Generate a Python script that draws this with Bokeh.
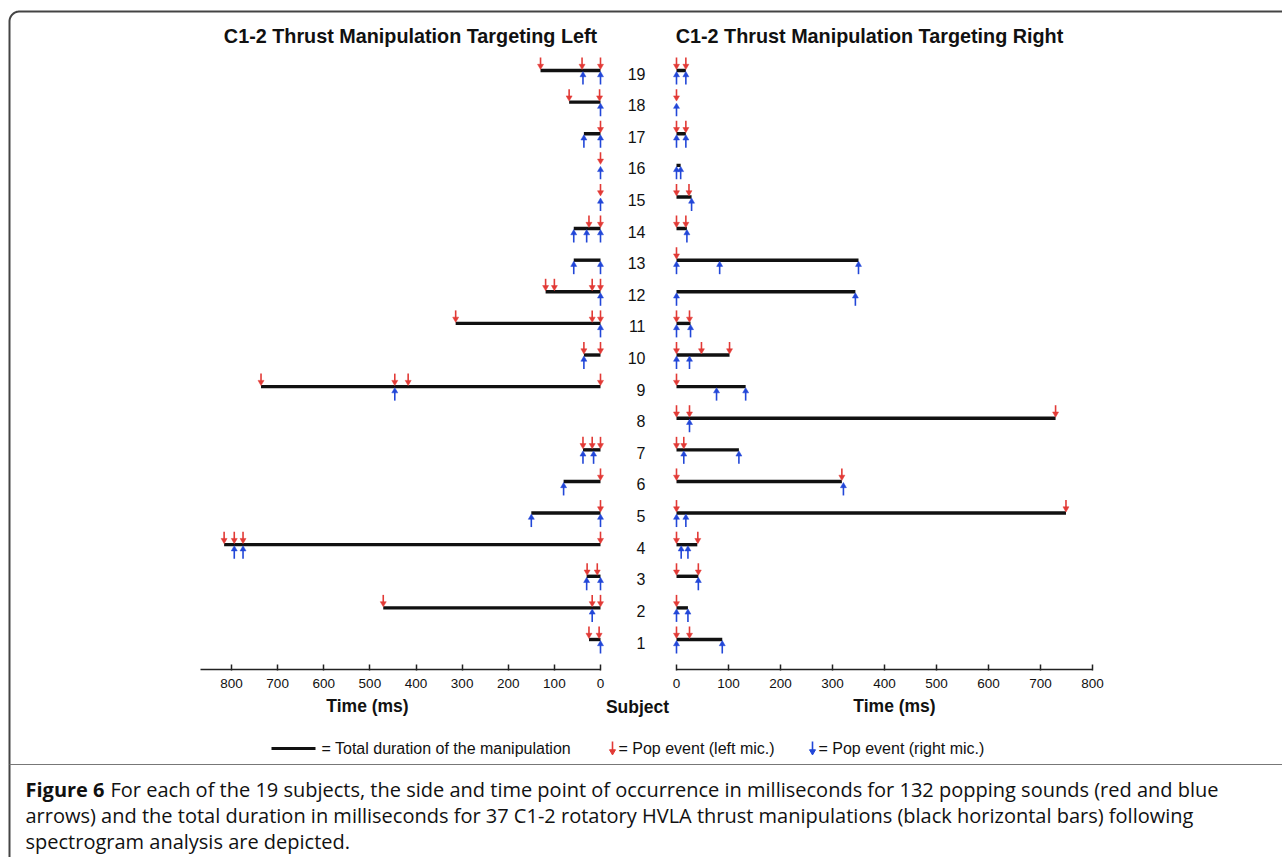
import numpy as np
from bokeh.plotting import figure
from bokeh.models import Range1d, LinearAxis, FixedTicker
from bokeh.core.properties import value
from bokeh.embed import file_html
from bokeh.resources import INLINE

# ---------------- data (subjects 1..19) ----------------
subjects = list(range(1, 20))

# total manipulation duration (ms), None = no manipulation on that side
left_dur = [25, 471, 30, 816, 150, 80, 38, None, 736, 36, 314, 119, 58, 58, 0, 0, 36, 68, 130]
right_dur = [88, 22, 42, 40, 749, 318, 120, 729, 133, 102, 27, 344, 350, 20, 29, 8, 18, 0, 18]

# pop events (ms) recorded by the left (red) and right (blue) microphones
left_red = [[25, 3], [471, 18, 0], [29, 7], [816, 794, 775, 0], [0], [0], [38, 18, 0], [],
            [736, 446, 417, 0], [36, 0], [314, 18, 0], [119, 100, 18, 0], [], [25, 0],
            [0], [0], [0], [68, 2], [130, 40, 0]]
left_blue = [[0], [18], [30, 0], [794, 775], [150, 0], [80], [38, 15], [], [446], [36],
             [0], [0], [58, 0], [58, 30, 0], [0], [0], [36, 0], [0], [38, 0]]
right_red = [[0, 25], [0], [0, 42], [0, 41], [0, 749], [0, 318], [0, 14], [0, 25, 729], [0],
             [0, 48, 102], [0, 25], [], [0], [0, 18], [0, 24], [], [0, 18], [0], [0, 18]]
right_blue = [[0, 88], [0, 22], [42], [9, 22], [0, 18], [321], [14, 120], [25], [77, 133],
              [0, 25], [0, 27], [0, 344], [0, 83, 350], [20], [29], [0, 8], [0, 18], [0], [0, 18]]

time_ticks = [0, 100, 200, 300, 400, 500, 600, 700, 800]

title_left = "C1-2 Thrust Manipulation Targeting Left"
title_right = "C1-2 Thrust Manipulation Targeting Right"
caption_bold = "Figure 6"
caption_lines = [
    "For each of the 19 subjects, the side and time point of occurrence in milliseconds for 132 popping sounds (red and blue",
    "arrows) and the total duration in milliseconds for 37 C1-2 rotatory HVLA thrust manipulations (black horizontal bars) following",
    "spectrogram analysis are depicted.",
]

# ---------------- styling ----------------
FONT = "Liberation Sans"
CAP_FONT = "Open Sans"
RED = "#e23a36"
BLUE = "#2247d8"
BAR = "#111111"

W, H = 1282, 857
PX_PER_SUBJ = 31.61            # vertical spacing of subjects in px
px = 1.0 / PX_PER_SUBJ         # one pixel in subject units

p = figure(width=W, height=H, output_backend="svg", toolbar_location=None,
           x_range=Range1d(0, W), y_range=Range1d(H, 0),
           x_axis_type=None, y_axis_type=None, min_border=0)
p.outline_line_color = None
p.background_fill_color = "white"
p.border_fill_color = "white"

# data ranges mapped onto the page
left_scale = 0.46125    # px per ms (left panel, reversed)
right_scale = 0.52      # px per ms
x0_left, x0_right = 600.0, 676.0
p.extra_x_ranges = {
    "L": Range1d(x0_left / left_scale, (x0_left - W) / left_scale),
    "R": Range1d(-x0_right / right_scale, (W - x0_right) / right_scale),
}
y_bar1 = 639.0
p.extra_y_ranges = {
    "S": Range1d(1 - (H - y_bar1) / PX_PER_SUBJ, 1 + y_bar1 / PX_PER_SUBJ),
}

# ---------------- bars and arrows ----------------
def draw_panel(rng, durs, reds, blues):
    bs, bd = [], []
    for s, d in zip(subjects, durs):
        if d is not None and d > 0:
            bs.append(s)
            bd.append(d)
    p.segment(x0=[0] * len(bs), x1=bd, y0=bs, y1=bs, x_range_name=rng, y_range_name="S",
              line_color=BAR, line_width=3.4, line_cap="butt")
    rs, rt = [], []
    for s, lst in zip(subjects, reds):
        for t in lst:
            rs.append(s)
            rt.append(t)
    rs = np.array(rs, dtype=float)
    p.segment(x0=rt, x1=rt, y0=rs + 13 * px, y1=rs + 4 * px, x_range_name=rng, y_range_name="S",
              line_color=RED, line_width=1.6)
    p.scatter(x=rt, y=rs + 4.5 * px, marker="inverted_triangle", size=6, x_range_name=rng,
              y_range_name="S", fill_color=RED, line_color=RED, line_width=0.5)
    bsu, bt = [], []
    for s, lst in zip(subjects, blues):
        for t in lst:
            bsu.append(s)
            bt.append(t)
    bsu = np.array(bsu, dtype=float)
    p.segment(x0=bt, x1=bt, y0=bsu - 4 * px, y1=bsu - 14 * px, x_range_name=rng, y_range_name="S",
              line_color=BLUE, line_width=1.6)
    p.scatter(x=bt, y=bsu - 4.5 * px, marker="triangle", size=6, x_range_name=rng,
              y_range_name="S", fill_color=BLUE, line_color=BLUE, line_width=0.5)

draw_panel("L", left_dur, left_red, left_blue)
draw_panel("R", right_dur, right_red, right_blue)

# ---------------- axes ----------------
for rng, bounds in (("L", (0, 867)), ("R", (0, 800))):
    ax = LinearAxis(x_range_name=rng, fixed_location=669, bounds=bounds,
                    ticker=FixedTicker(ticks=time_ticks))
    ax.axis_line_color = "#222222"
    ax.axis_line_width = 1.5
    ax.major_tick_line_color = "#222222"
    ax.major_tick_line_width = 1.5
    ax.major_tick_in = 5
    ax.major_tick_out = 1
    ax.minor_tick_line_color = None
    ax.major_label_standoff = 8
    ax.major_label_text_font = FONT
    ax.major_label_text_font_size = "13.5px"
    ax.major_label_text_color = "#111111"
    p.add_layout(ax, "below")

# subject numbers
p.text(x=[645] * len(subjects), y=subjects, text=[str(s) for s in subjects], y_range_name="S",
       y_offset=3, text_align=value("right"), text_baseline=value("middle"),
       text_font=value(FONT), text_font_size=value("16px"), text_color=value("#111111"))

# titles & axis labels
def label(x, y, txt, size, bold=False, align="center", font=FONT, color="#111111"):
    p.text(x=[x], y=[y], text=[txt], text_align=value(align), text_baseline=value("middle"),
           text_font=value(font), text_font_size=value(size),
           text_font_style=value("bold" if bold else "normal"), text_color=value(color))

label(410, 35, title_left, "19.8px", bold=True)
label(869, 35, title_right, "19.8px", bold=True)
label(367, 705, "Time (ms)", "17.5px", bold=True)
label(894, 705, "Time (ms)", "17.5px", bold=True)
label(637, 706, "Subject", "17.5px", bold=True)

# ---------------- legend ----------------
ly = 748
p.line(x=[271, 315], y=[ly, ly], line_color=BAR, line_width=3)
label(321, ly, "= Total duration of the manipulation", "16px", align="left")
for ax_x, col, txt in ((612, RED, "= Pop event (left mic.)"), (812, BLUE, "= Pop event (right mic.)")):
    p.segment(x0=[ax_x], x1=[ax_x], y0=[ly - 7], y1=[ly + 2], line_color=col, line_width=1.6)
    p.scatter(x=[ax_x], y=[ly + 3], marker="inverted_triangle", size=6, fill_color=col, line_color=col)
    label(ax_x + 6, ly, txt, "16px", align="left")

# ---------------- frame & caption ----------------
t = np.linspace(0, np.pi / 2, 20)
bx = np.concatenate([[9], 19 - 10 * np.cos(t), [W + 5]])
by = np.concatenate([[H + 5], 21 - 10 * np.sin(t), [11]])
p.line(x=bx, y=by, line_color="#444444", line_width=2)
p.line(x=[9, W + 5], y=[764, 764], line_color="#777777", line_width=1)

label(25, 789, caption_bold, "20px", bold=True, align="left", font=CAP_FONT)
label(110, 789, caption_lines[0], "20px", align="left", font=CAP_FONT)
label(25, 815, caption_lines[1], "20px", align="left", font=CAP_FONT)
label(25, 841, caption_lines[2], "20px", align="left", font=CAP_FONT)

open("out.html", "w").write(file_html(p, INLINE))
